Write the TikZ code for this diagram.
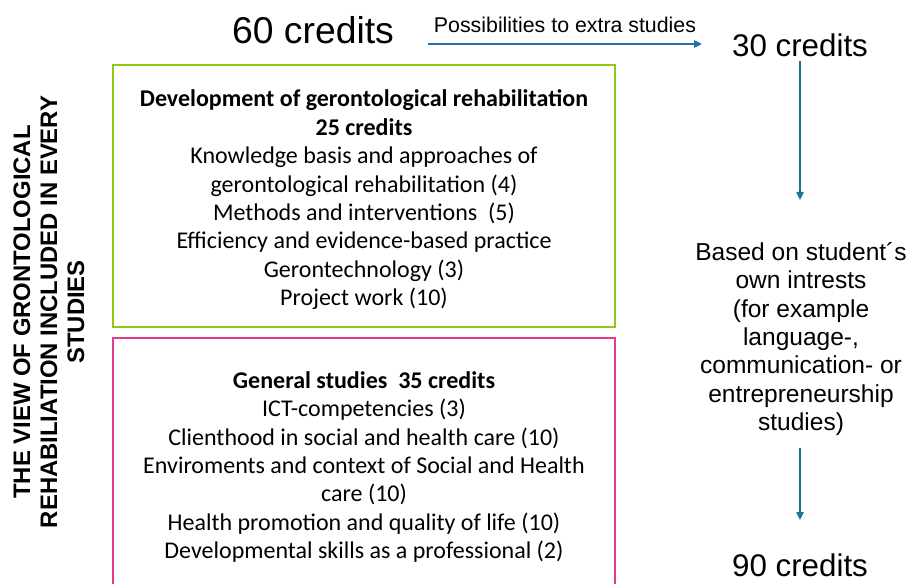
\documentclass[tikz,border=0pt]{standalone}
\usepackage{fontspec}
\setmainfont{Liberation Sans}
\newfontfamily\calibri{Carlito}
\usetikzlibrary{arrows.meta,positioning}
\definecolor{boxgreen}{RGB}{146,200,20}
\definecolor{boxpink}{RGB}{226,58,140}
\definecolor{arrowblue}{RGB}{28,114,164}

\begin{document}
\begin{tikzpicture}[x=0.75pt,y=-0.75pt,
  flow/.style={draw=arrowblue,line width=1pt,-{Triangle[length=6pt,width=5.5pt]}},
  frame/.style={draw,line width=2pt,minimum width=376.5pt},
  course/.style={align=center,font=\calibri\fontsize{18}{21.3}\selectfont},
  credits/.style={font=\fontsize{23.5}{28}\selectfont}]
  \useasboundingbox (0,0) rectangle (909,584);
  % totals
  \node[font=\fontsize{28}{33}\selectfont] (c60) at (313,30) {60 credits};
  \node[credits] (c30) at (800,45) {30 credits};
  \node[credits] (c90) at (800,565) {90 credits};
  % side title
  \node[rotate=90,align=center,font=\bfseries\fontsize{17.9}{20.25}\selectfont]
    (view) at (49,312) {THE VIEW OF GRONTOLOGICAL\\REHABILIATION INCLUDED IN EVERY\\STUDIES};
  % the two study blocks
  \node[frame,draw=boxgreen,minimum height=196.5pt] (dev) at (364,196) {};
  \node[frame,draw=boxpink,minimum height=190.5pt] (gen) at (364,465) {};
  \node[course] (devtext) at (364,200)
    {\textbf{Development of gerontological rehabilitation}\\\textbf{25 credits}\\
     Knowledge basis and approaches of\\gerontological rehabilitation (4)\\
     Methods and interventions\ \ (5)\\Efficiency and evidence-based practice\\
     Gerontechnology (3)\\Project work (10)};
  \node[course] (gentext) at (364,467)
    {\textbf{General studies\ \ 35 credits}\\ICT-competencies (3)\\
     Clienthood in social and health care (10)\\
     Enviroments and context of Social and Health\\care (10)\\
     Health promotion and quality of life (10)\\
     Developmental skills as a professional (2)};
  % extra studies
  \node[align=center,font=\fontsize{18.4}{21.3}\selectfont] (based) at (801,339)
    {Based on student´s\\own intrests\\(for example\\language-,\\communication- or\\entrepreneurship\\studies)};
  \coordinate (xs) at (428,44);
  \coordinate (xe) at (702,44);
  \coordinate (tip1) at (800,200);
  \coordinate (tip2) at (800,520);
  \draw[flow] (xs) -- node[above=5pt,font=\fontsize{16}{19}\selectfont] (extra)
    {Possibilities to extra studies} (xe);
  \draw[flow] (c30.south) -- (tip1);
  \draw[flow,shorten <=6pt] (based.south -| tip2) -- (tip2);
\end{tikzpicture}
\end{document}
